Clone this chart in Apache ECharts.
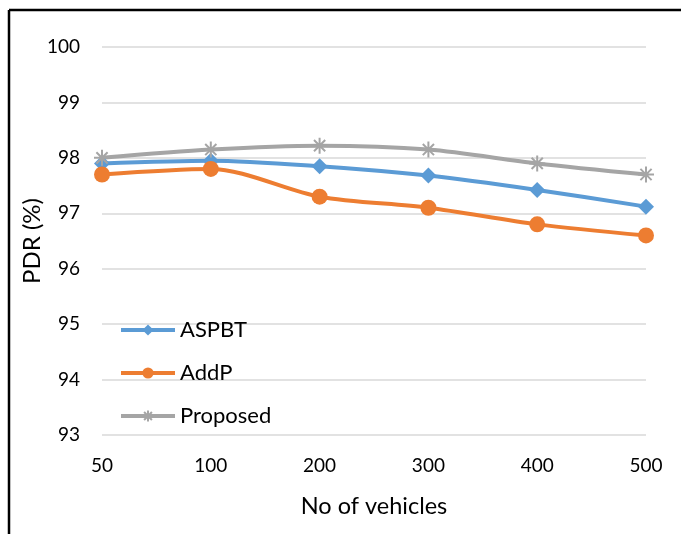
<!DOCTYPE html>
<html><head><meta charset="utf-8">
<script src="https://cdn.jsdelivr.net/npm/echarts@6/dist/echarts.min.js"></script>
<style>html,body{margin:0;padding:0;background:#fff}#c{width:681px;height:534px}</style>
</head><body><div id="c"></div>
<script>
const categories = ['50','100','200','300','400','500'];
const aspbt = [97.9, 97.95, 97.85, 97.68, 97.42, 97.12];
const addp = [97.7, 97.8, 97.3, 97.1, 96.8, 96.6];
const proposed = [98.0, 98.15, 98.22, 98.15, 97.9, 97.7];
const seriesNames = ['ASPBT', 'AddP', 'Proposed'];

const FONT = 'Lato';
const chart = echarts.init(document.getElementById('c'));
chart.setOption({
  animation: false,
  backgroundColor: '#fff',
  textStyle: { fontFamily: FONT },
  grid: { left: 102, right: 35, top: 47, bottom: 99 },
  graphic: [
    { type: 'line', shape: { x1: 9, y1: 10, x2: 681, y2: 10 }, style: { stroke: '#000', lineWidth: 2.5 } },
    { type: 'line', shape: { x1: 9, y1: 10, x2: 9, y2: 534 }, style: { stroke: '#000', lineWidth: 2.5 } }
  ],
  legend: {
    orient: 'vertical', left: 114, top: 313, itemGap: 19,
    itemWidth: 54, itemHeight: 14,
    lineStyle: { width: 4 },
    textStyle: { fontSize: 22, lineHeight: 24, color: '#000', fontFamily: FONT },
    data: seriesNames
  },
  xAxis: {
    type: 'category', data: categories, boundaryGap: false,
    name: 'No of vehicles', nameLocation: 'middle', nameGap: 59, nameMoveOverlap: false,
    nameTextStyle: { fontSize: 23.5, color: '#000', fontFamily: FONT },
    axisLine: { show: false }, axisTick: { show: false },
    axisLabel: { fontSize: 19, color: '#000', margin: 21, fontFamily: FONT }
  },
  yAxis: {
    type: 'value', min: 93, max: 100, interval: 1,
    name: 'PDR (%)', nameLocation: 'middle', nameGap: 58, nameMoveOverlap: false,
    nameTextStyle: { fontSize: 24, color: '#000', fontFamily: FONT },
    axisLine: { show: false }, axisTick: { show: false },
    axisLabel: { fontSize: 19, color: '#000', margin: 22, fontFamily: FONT },
    splitLine: { lineStyle: { color: '#d9d9d9', width: 1.5 } }
  },
  series: [
    { name: 'ASPBT', type: 'line', smooth: 0.3, data: aspbt, symbol: 'diamond', symbolSize: 16,
      lineStyle: { color: '#5B9BD5', width: 4 }, itemStyle: { color: '#5B9BD5' } },
    { name: 'AddP', type: 'line', smooth: 0.3, data: addp, symbol: 'circle', symbolSize: 16,
      lineStyle: { color: '#ED7D31', width: 4 }, itemStyle: { color: '#ED7D31' } },
    { name: 'Proposed', type: 'line', smooth: 0.3, data: proposed,
      symbol: 'path://M0,10L20,10M10,0L10,20M3,3L17,17M17,3L3,17', symbolSize: 16,
      lineStyle: { color: '#A5A5A5', width: 4 },
      itemStyle: { color: 'none', borderColor: '#A5A5A5', borderWidth: 2 } }
  ]
});
</script></body></html>
